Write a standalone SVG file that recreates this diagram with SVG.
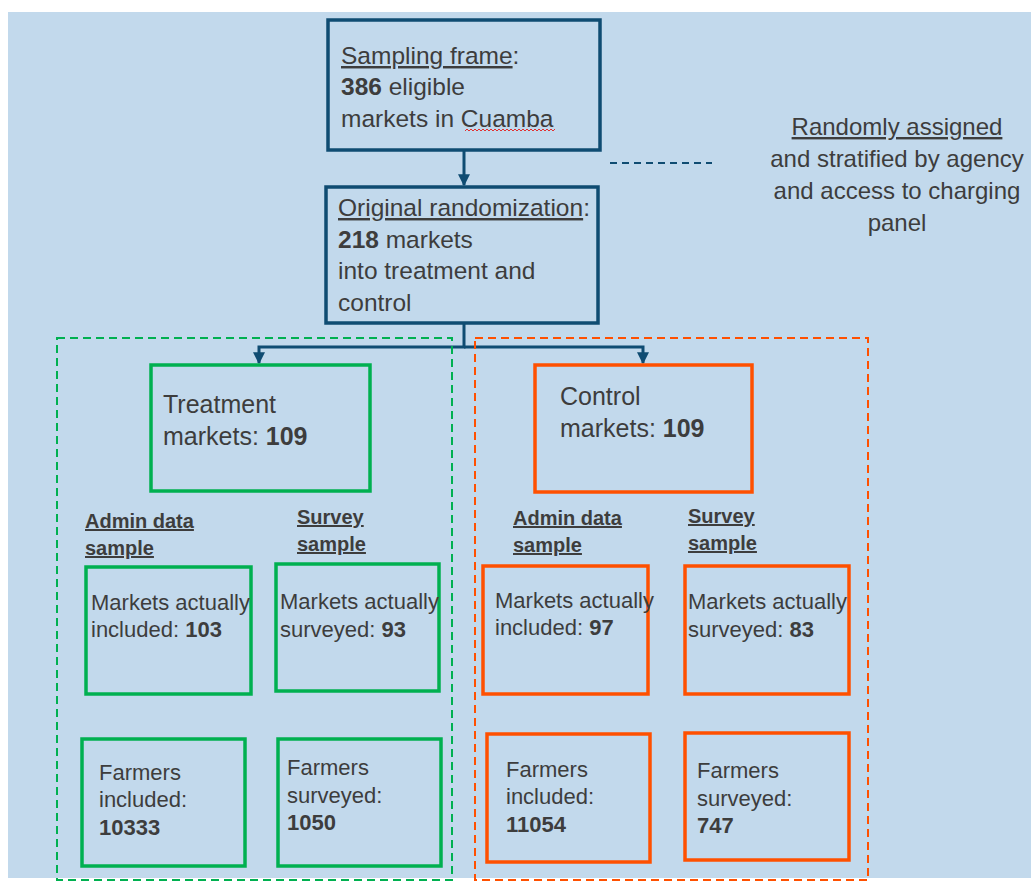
<svg xmlns="http://www.w3.org/2000/svg" width="1031" height="882" viewBox="0 0 1031 882">
<defs>
<style>
.t{font-family:"Liberation Sans",Arial,sans-serif;fill:#3d3d3d}
.b{font-weight:bold}
.u{text-decoration:underline}
.nb{fill:none;stroke:#0f4c72;stroke-width:3.5}
.ng{fill:none;stroke:#00b050;stroke-width:3.5}
.no{fill:none;stroke:#ff5000;stroke-width:3.5}
.c{fill:none;stroke:#0f4c72;stroke-width:3}
</style>
<marker id="ah" viewBox="0 0 10 10" refX="9" refY="5" markerWidth="4" markerHeight="4" orient="auto" markerUnits="strokeWidth">
<path d="M0,0 L10,5 L0,10 z" fill="#0f4c72"/>
</marker>
</defs>
<rect x="0" y="0" width="1031" height="882" fill="#ffffff"/>
<rect x="8" y="12" width="1023" height="866" fill="#c2d9ec"/>

<g id="connectors">
<path class="c" d="M464,150 V185" marker-end="url(#ah)"/>
<path class="c" d="M464,323 V347 H259 V363" marker-end="url(#ah)"/>
<path class="c" d="M464,347 H643 V363" marker-end="url(#ah)"/>
<path d="M610,163 H712" fill="none" stroke="#0f4c72" stroke-width="2" stroke-dasharray="7,5"/>
</g>

<g id="group-treatment">
<rect x="57" y="338" width="395" height="542" fill="none" stroke="#00b050" stroke-width="2" stroke-dasharray="8,5"/>
</g>
<g id="group-control">
<rect x="475" y="338" width="393" height="542" fill="none" stroke="#ff5000" stroke-width="2" stroke-dasharray="8,5"/>
</g>

<g id="sampling-frame">
<rect class="nb" x="328" y="20" width="272" height="130"/>
<text class="t" font-size="24.5" x="341" y="64"><tspan class="u">Sampling frame</tspan>:</text>
<text class="t" font-size="24.5" x="341" y="95"><tspan class="b">386</tspan> eligible</text>
<text class="t" font-size="24.5" x="341" y="127">markets in Cuamba</text>
<path d="M465,131 l2,-2 l2,2 l2,-2 l2,2 l2,-2 l2,2 l2,-2 l2,2 l2,-2 l2,2 l2,-2 l2,2 l2,-2 l2,2 l2,-2 l2,2 l2,-2 l2,2 l2,-2 l2,2 l2,-2 l2,2 l2,-2 l2,2 l2,-2 l2,2 l2,-2 l2,2 l2,-2 l2,2 l2,-2 l2,2 l2,-2 l2,2 l2,-2 l2,2 l2,-2 l2,2 l2,-2 l2,2 l2,-2 l2,2 l2,-2 l2,2 l2,-2" fill="none" stroke="#e03030" stroke-width="1"/>
</g>

<g id="original-randomization">
<rect class="nb" x="326" y="187" width="272" height="136"/>
<text class="t" font-size="24.5" x="338" y="216"><tspan class="u">Original randomization</tspan>:</text>
<text class="t" font-size="24.5" x="338" y="248"><tspan class="b">218</tspan> markets</text>
<text class="t" font-size="24.5" x="338" y="279">into treatment and</text>
<text class="t" font-size="24.5" x="338" y="311">control</text>
</g>

<g id="note">
<text class="t" font-size="24" x="897" y="135" text-anchor="middle"><tspan class="u">Randomly assigned</tspan></text>
<text class="t" font-size="24" x="897" y="167" text-anchor="middle">and stratified by agency</text>
<text class="t" font-size="24" x="897" y="199" text-anchor="middle">and access to charging</text>
<text class="t" font-size="24" x="897" y="231" text-anchor="middle">panel</text>
</g>

<g id="treatment">
<rect class="ng" x="151" y="365" width="219" height="126"/>
<text class="t" font-size="25" x="163" y="413">Treatment</text>
<text class="t" font-size="25" x="163" y="445">markets: <tspan class="b">109</tspan></text>
</g>

<g id="control">
<rect class="no" x="535" y="365" width="217" height="127"/>
<text class="t" font-size="25" x="560" y="405">Control</text>
<text class="t" font-size="25" x="560" y="437">markets: <tspan class="b">109</tspan></text>
</g>

<g id="t-admin-label">
<text class="t b u" font-size="20" x="85" y="528">Admin data</text>
<text class="t b u" font-size="20" x="85" y="555">sample</text>
</g>
<g id="t-survey-label">
<text class="t b u" font-size="20" x="297" y="524">Survey</text>
<text class="t b u" font-size="20" x="297" y="551">sample</text>
</g>
<g id="c-admin-label">
<text class="t b u" font-size="20" x="513" y="525">Admin data</text>
<text class="t b u" font-size="20" x="513" y="552">sample</text>
</g>
<g id="c-survey-label">
<text class="t b u" font-size="20" x="688" y="523">Survey</text>
<text class="t b u" font-size="20" x="688" y="550">sample</text>
</g>

<g id="t-markets-included">
<rect class="ng" x="86" y="567" width="165" height="127"/>
<text class="t" font-size="22" x="91" y="610">Markets actually</text>
<text class="t" font-size="22" x="91" y="637">included: <tspan class="b">103</tspan></text>
</g>
<g id="t-markets-surveyed">
<rect class="ng" x="276" y="564" width="163" height="127"/>
<text class="t" font-size="22" x="280" y="609">Markets actually</text>
<text class="t" font-size="22" x="280" y="637">surveyed: <tspan class="b">93</tspan></text>
</g>
<g id="t-farmers-included">
<rect class="ng" x="82" y="739" width="163" height="127"/>
<text class="t" font-size="22" x="99" y="780">Farmers</text>
<text class="t" font-size="22" x="99" y="807">included:</text>
<text class="t b" font-size="22" x="99" y="835">10333</text>
</g>
<g id="t-farmers-surveyed">
<rect class="ng" x="278" y="739" width="163" height="127"/>
<text class="t" font-size="22" x="287" y="775">Farmers</text>
<text class="t" font-size="22" x="287" y="803">surveyed:</text>
<text class="t b" font-size="22" x="287" y="830">1050</text>
</g>

<g id="c-markets-included">
<rect class="no" x="483" y="566" width="165" height="128"/>
<text class="t" font-size="22" x="495" y="608">Markets actually</text>
<text class="t" font-size="22" x="495" y="635">included: <tspan class="b">97</tspan></text>
</g>
<g id="c-markets-surveyed">
<rect class="no" x="685" y="566" width="164" height="128"/>
<text class="t" font-size="22" x="688" y="609">Markets actually</text>
<text class="t" font-size="22" x="688" y="637">surveyed: <tspan class="b">83</tspan></text>
</g>
<g id="c-farmers-included">
<rect class="no" x="487" y="734" width="163" height="128"/>
<text class="t" font-size="22" x="506" y="777">Farmers</text>
<text class="t" font-size="22" x="506" y="804">included:</text>
<text class="t b" font-size="22" x="506" y="832">11054</text>
</g>
<g id="c-farmers-surveyed">
<rect class="no" x="685" y="733" width="164" height="127"/>
<text class="t" font-size="22" x="697" y="778">Farmers</text>
<text class="t" font-size="22" x="697" y="806">surveyed:</text>
<text class="t b" font-size="22" x="697" y="833">747</text>
</g>
</svg>
